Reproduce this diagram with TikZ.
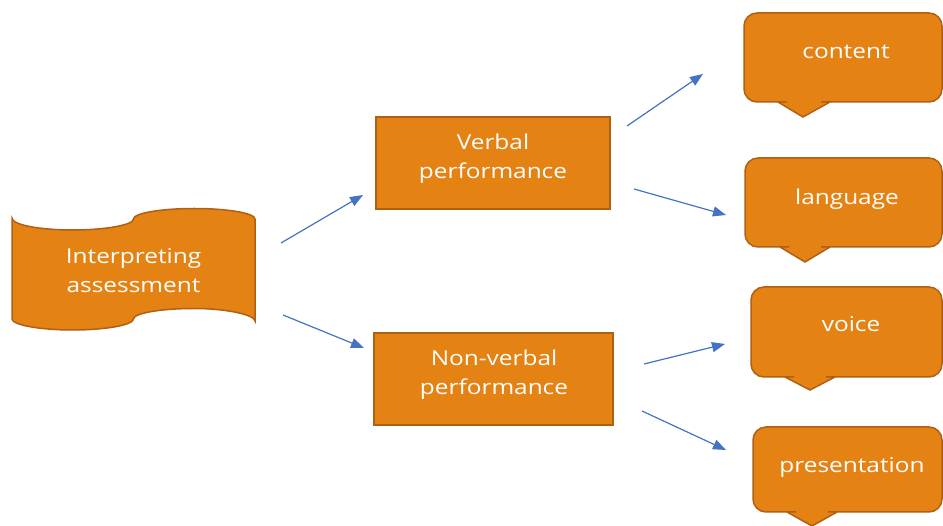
\documentclass[tikz,border=0pt]{standalone}
\usepackage{fontspec}
\setmainfont{Open Sans}[FakeStretch=1.19]
\usetikzlibrary{arrows.meta}
\definecolor{orfill}{RGB}{228,130,20}
\definecolor{orline}{RGB}{176,96,18}
\definecolor{arblue}{RGB}{68,114,196}
\tikzset{
  shapebox/.style={draw=orline, fill=orfill, line width=1.5pt},
  rectbox/.style={shapebox, rectangle, inner sep=0pt},
  lbl/.style={text=white, font=\fontsize{20.5}{29}\selectfont, align=center, inner sep=0pt},
  conn/.style={draw=arblue, line width=1.2pt, -{Triangle[length=13pt,width=10pt]}}
}
\newcommand{\mycallout}[8]{%
  \draw[shapebox] (#7,#8) -- (#6,#4) -- ++(2,0) [rounded corners=13pt] -- ++(2,0) -- (#2,#4) -- (#2,#3) -- (#1,#3) -- (#1,#4) -- (#5-4,#4) [sharp corners] -- (#5-2,#4) -- (#5,#4) -- cycle;}
\begin{document}
\begin{tikzpicture}[x=1pt,y=-1pt]
\useasboundingbox (0,0) rectangle (943,526);
% punched tape shape
\draw[shapebox] (12,218)
  .. controls (12,224.8) and (39.2,230) .. (72.75,230)
  .. controls (106.3,230) and (133.5,224.8) .. (133.5,219)
  .. controls (133.5,213.2) and (160.7,208.5) .. (194.25,208.5)
  .. controls (227.8,208.5) and (255,213.2) .. (255,219)
  -- (255,321)
  .. controls (255,315.2) and (227.8,308.5) .. (194.25,308.5)
  .. controls (160.7,308.5) and (133.5,313.2) .. (133.5,319)
  .. controls (133.5,324.8) and (106.3,330) .. (72.75,330)
  .. controls (39.2,330) and (12,324.8) .. (12,319)
  -- cycle;
\node[lbl] (ia) at (133.5,271) {Interpreting\\assessment};
% rectangles
\node[rectbox, minimum width=234pt, minimum height=92pt] (vb) at (493,163) {};
\node[lbl] (vbt) at (493,158.5) {Verbal\\performance};
\node[rectbox, minimum width=239pt, minimum height=92pt] (nv) at (493.5,379) {};
\node[lbl] (nvt) at (494,374.5) {Non-verbal\\performance};
% callouts
\mycallout{744}{942}{13}{102}{778}{830}{803}{117}
\node[lbl, anchor=base] (ct) at (846,59) {content};
\mycallout{745}{942}{158}{247}{780}{830}{805}{262}
\node[lbl, anchor=base] (lg) at (847,205) {language};
\mycallout{751}{942}{287}{377}{785}{835}{810}{390}
\node[lbl, anchor=base] (vc) at (851,332) {voice};
\mycallout{753}{942}{427}{512}{787}{837}{812}{526}
\node[lbl, anchor=base] (pr) at (852,473) {presentation};
% connector end points
\coordinate (a1s) at (281,243); \coordinate (a1e) at (363,195);
\coordinate (a2s) at (283,315); \coordinate (a2e) at (364,348);
\coordinate (a3s) at (627,126); \coordinate (a3e) at (703,74);
\coordinate (a4s) at (634,189); \coordinate (a4e) at (726,215);
\coordinate (a5s) at (644,364); \coordinate (a5e) at (725,344);
\coordinate (a6s) at (642,411); \coordinate (a6e) at (726,450);
\draw[conn] (a1s) -- (a1e);
\draw[conn] (a2s) -- (a2e);
\draw[conn] (a3s) -- (a3e);
\draw[conn] (a4s) -- (a4e);
\draw[conn] (a5s) -- (a5e);
\draw[conn] (a6s) -- (a6e);
\end{tikzpicture}
\end{document}
